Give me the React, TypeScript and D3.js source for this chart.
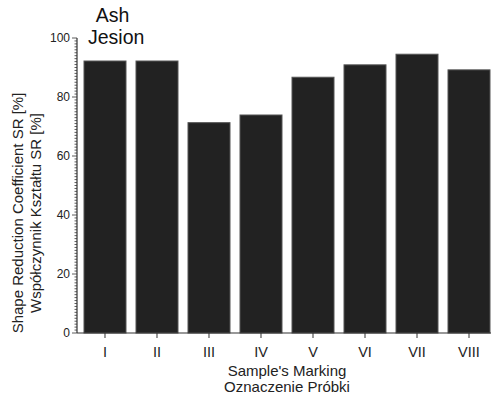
import React from "react";
import * as d3 from "d3";

const categories = ["I", "II", "III", "IV", "V", "VI", "VII", "VIII"];
const values = [92.2, 92.2, 71.3, 73.9, 86.7, 90.9, 94.5, 89.2];
const yTicks = [0, 20, 40, 60, 80, 100];
const titleLines = ["Ash", "Jesion"];
const xTitle = ["Sample's Marking", "Oznaczenie Próbki"];
const yTitle = ["Shape Reduction Coefficient SR [%]", "Współczynnik Kształtu SR [%]"];

export default function App() {
  const W = 491, H = 396;
  const y = d3.scaleLinear().domain([0, 100]).range([333, 38]);
  const x = d3.scaleBand<string>().domain(categories).range([77, 497]).paddingInner(0.1923).paddingOuter(0.1346);
  const minor = d3.range(0, 101, 1);
  const font = "'Liberation Sans', Arial, sans-serif";
  const axisColor = "#333";
  return (
    <svg width={W} height={H} style={{ position: "absolute", left: 0, top: 0, background: "#fff" }} fontFamily={font}>
      {categories.map((c, i) => (
        <rect key={c} x={x(c)} y={y(values[i])} width={x.bandwidth()} height={y(0) - y(values[i])}
          fill="#222" stroke="#555" strokeWidth={1} />
      ))}
      {/* y axis */}
      <line x1={77} x2={77} y1={y(0)} y2={y(100)} stroke={axisColor} strokeWidth={1.2} />
      {minor.map(v => (
        <line key={v} x1={77} x2={v % 20 === 0 ? 72 : 74.5} y1={y(v)} y2={y(v)} stroke={axisColor} strokeWidth={0.8} />
      ))}
      {yTicks.map(v => (
        <text key={v} x={70} y={y(v)} dy="0.35em" textAnchor="end" fontSize={12} fill="#222">{v}</text>
      ))}
      {/* x axis */}
      <line x1={77} x2={W} y1={y(0)} y2={y(0)} stroke={axisColor} strokeWidth={1.2} />
      {categories.map(c => {
        const cx = (x(c) as number) + x.bandwidth() / 2;
        return (
          <g key={c}>
            <line x1={cx} x2={cx} y1={y(0)} y2={y(0) + 5} stroke={axisColor} strokeWidth={1} />
            <text x={cx} y={357} textAnchor="middle" fontSize={14.5} fill="#222">{c}</text>
          </g>
        );
      })}
      {xTitle.map((t, i) => (
        <text key={t} x={287} y={376 + i * 16} textAnchor="middle" fontSize={15} fill="#222">{t}</text>
      ))}
      {yTitle.map((t, i) => (
        <text key={t} transform={`translate(${23 + i * 17.5},213) rotate(-90)`} textAnchor="middle" fontSize={15} fill="#222">{t}</text>
      ))}
      <text x={112.5} y={22} textAnchor="middle" fontSize={19.5} fill="#111">{titleLines[0]}</text>
      <text x={88} y={44} fontSize={19.5} fill="#111">{titleLines[1]}</text>
    </svg>
  );
}
